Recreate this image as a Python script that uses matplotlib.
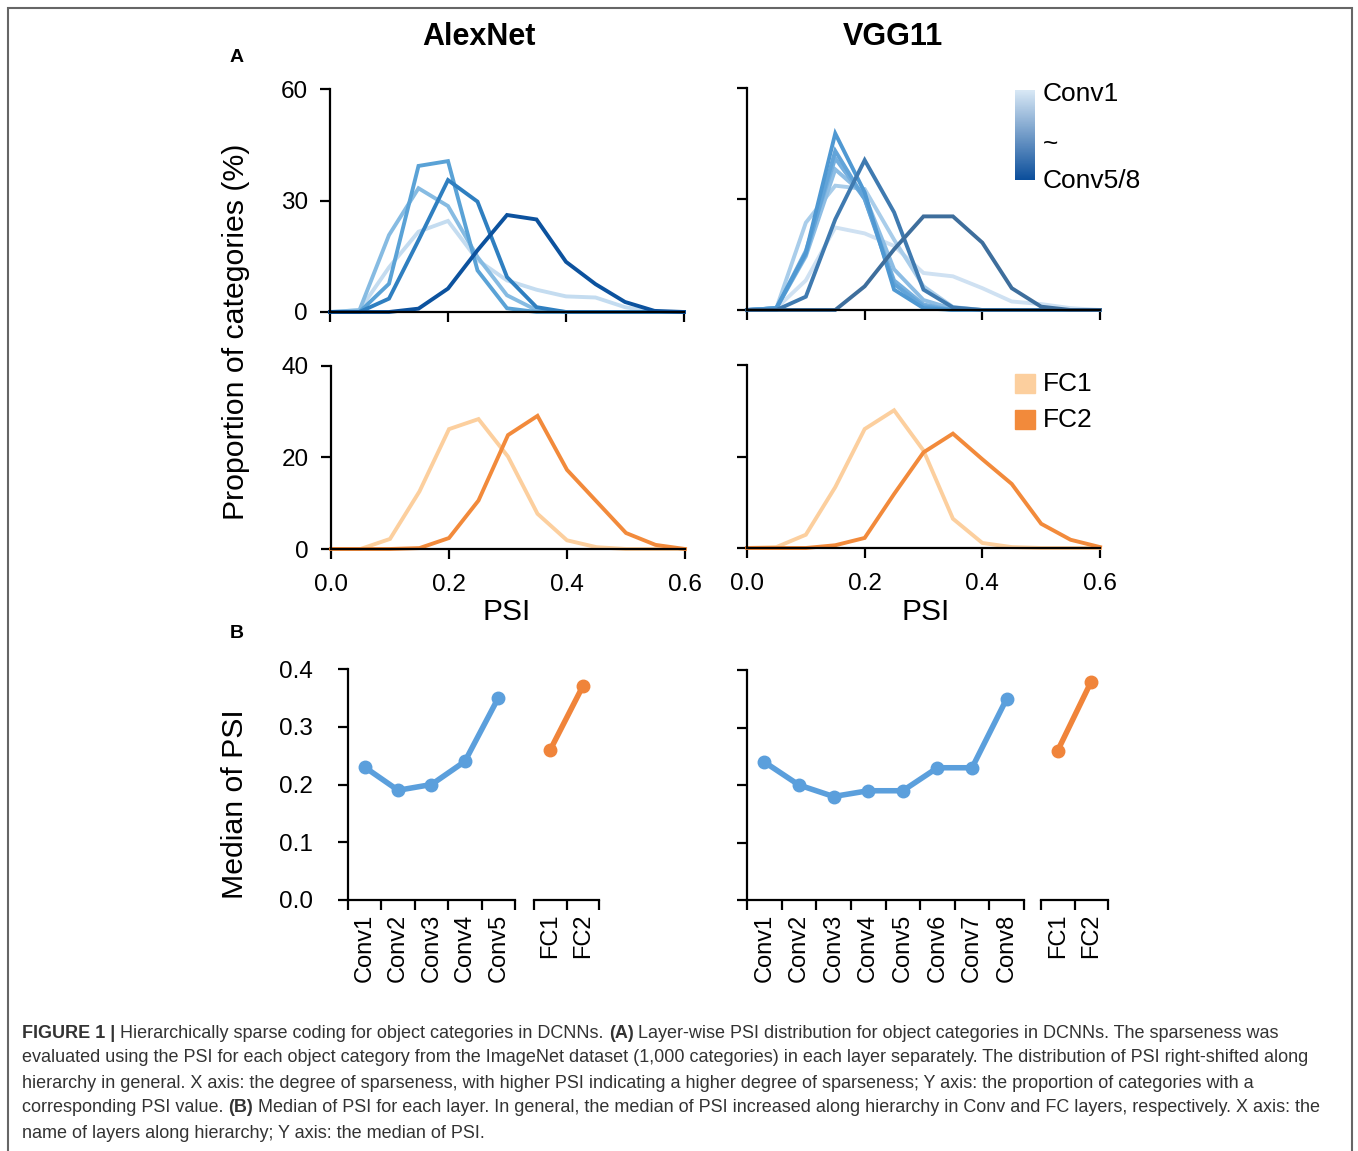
"""Sparse coding figure: PSI distributions per layer (A) and median PSI per layer (B)."""

import matplotlib.pyplot as plt
from matplotlib.colors import LinearSegmentedColormap
from matplotlib.patches import Rectangle
import numpy as np

plt.rcParams["font.family"] = ["Liberation Sans", "DejaVu Sans"]

W, H = 1358, 1151

# PSI bin centres
psi_bins = [0.0, 0.05, 0.1, 0.15, 0.2, 0.25, 0.3, 0.35, 0.4, 0.45, 0.5, 0.55, 0.6]

# AlexNet conv layers, % of categories per PSI bin
alex_conv1 = [0, 0.5, 12, 21.6, 24.5, 14, 8.5, 6, 4.2, 3.9, 1.3, 0, 0]
alex_conv2 = [0, 0.5, 20.7, 33.3, 28.5, 14.8, 4.5, 0.5, 0, 0, 0, 0, 0]
alex_conv3 = [0, 0, 7.6, 39.3, 40.6, 11.2, 1, 0, 0, 0, 0, 0, 0]
alex_conv4 = [0, 0, 3.6, 19.3, 35.5, 29.7, 9.4, 1.3, 0, 0, 0, 0, 0]
alex_conv5 = [0, 0, 0, 0.9, 6.3, 16.6, 26.1, 24.9, 13.5, 7.5, 2.7, 0.3, 0]

# VGG11 conv layers
vgg_conv1 = [0, 0.5, 8, 22.3, 20.7, 17.3, 10, 9.1, 5.9, 2.3, 1.6, 0.5, 0]
vgg_conv2 = [0, 0.5, 23.6, 33.6, 32.7, 19, 6.4, 0.8, 0, 0, 0, 0, 0]
vgg_conv3 = [0, 0.5, 14.5, 38, 31, 11, 2.7, 0.3, 0, 0, 0, 0, 0]
vgg_conv4 = [0, 0.5, 16, 41, 30, 8, 1.5, 0, 0, 0, 0, 0, 0]
vgg_conv5 = [0, 0.5, 15, 43, 30, 7, 1, 0, 0, 0, 0, 0, 0]
vgg_conv6 = [0, 0.5, 15.5, 47.7, 31.8, 5.5, 0.5, 0, 0, 0, 0, 0, 0]
vgg_conv7 = [0, 0, 3.6, 24.5, 40.5, 26.4, 5.5, 0.7, 0, 0, 0, 0, 0]
vgg_conv8 = [0, 0, 0, 0, 6.4, 16.4, 25.3, 25.3, 18.2, 5.9, 0.9, 0, 0]

# FC layers
alex_fc1 = [0, 0, 2.2, 12.6, 26.2, 28.4, 20.2, 7.7, 1.9, 0.4, 0, 0, 0]
alex_fc2 = [0, 0, 0, 0.2, 2.4, 10.6, 24.9, 29.1, 17.3, 10.4, 3.5, 0.9, 0]
vgg_fc1 = [0, 0.2, 2.9, 13.3, 26, 30.1, 21.3, 6.4, 1.1, 0.2, 0, 0, 0]
vgg_fc2 = [0, 0, 0, 0.6, 2.2, 11.8, 20.9, 25, 19.4, 14, 5.3, 1.8, 0.2]

# Median PSI per layer
alex_conv_names = ["Conv1", "Conv2", "Conv3", "Conv4", "Conv5"]
alex_conv_median = [0.23, 0.19, 0.20, 0.24, 0.35]
vgg_conv_names = ["Conv1", "Conv2", "Conv3", "Conv4", "Conv5", "Conv6", "Conv7", "Conv8"]
vgg_conv_median = [0.24, 0.20, 0.18, 0.19, 0.19, 0.23, 0.23, 0.35]
fc_names = ["FC1", "FC2"]
alex_fc_median = [0.26, 0.37]
vgg_fc_median = [0.26, 0.38]

ALEX_BLUES = ["#c4dcf0", "#86bbe2", "#5aa2d6", "#2f7fc0", "#0c529e"]
VGG_BLUES = ["#cfe1f2", "#a9cdea", "#8dbde4", "#75afde", "#62a4d9", "#4f98d2", "#3f7ab0", "#3e6e9c"]
FC_COLORS = ["#fccf9e", "#f28a3b"]
MED_BLUE = "#5b9fdc"
MED_ORANGE = "#f0843a"

CAPTION = [
    [("FIGURE 1 | ", "bold"), ("Hierarchically sparse coding for object categories in DCNNs. ", "normal"),
     ("(A)", "bold"), (" Layer-wise PSI distribution for object categories in DCNNs. The sparseness was", "normal")],
    [("evaluated using the PSI for each object category from the ImageNet dataset (1,000 categories) in each "
      "layer separately. The distribution of PSI right-shifted along", "normal")],
    [("hierarchy in general. X axis: the degree of sparseness, with higher PSI indicating a higher degree of "
      "sparseness; Y axis: the proportion of categories with a", "normal")],
    [("corresponding PSI value. ", "normal"), ("(B)", "bold"),
     (" Median of PSI for each layer. In general, the median of PSI increased along hierarchy in Conv and FC "
      "layers, respectively. X axis: the", "normal")],
    [("name of layers along hierarchy; Y axis: the median of PSI.", "normal")],
]


def rect(x0, y0, x1, y1):
    """Pixel box (top-left origin) -> figure fraction [left, bottom, width, height]."""
    return [x0 / W, 1 - y1 / H, (x1 - x0) / W, (y1 - y0) / H]


def fxy(x, y):
    return x / W, 1 - y / H


def style_axes(ax, left=True, ypad=9, xpad=11):
    for s in ["top", "right"]:
        ax.spines[s].set_visible(False)
    ax.spines["left"].set_visible(left)
    for s in ["left", "bottom"]:
        ax.spines[s].set_linewidth(1.6)
    ax.tick_params(direction="out", length=7, width=1.6, labelsize=17.5)
    ax.tick_params(axis="y", pad=ypad)
    ax.tick_params(axis="x", pad=xpad)
    if not left:
        ax.tick_params(axis="y", left=False, labelleft=False)


def dist_panel(ax, series, colors, ymax, yticks, ylabels, xlabels):
    for vals, c in zip(series, colors):
        ax.plot(psi_bins, vals, color=c, lw=2.8, clip_on=False, solid_joinstyle="miter")
    ax.set_xlim(0, 0.6)
    ax.set_ylim(0, ymax)
    ax.set_xticks([0, 0.2, 0.4, 0.6])
    ax.set_yticks(yticks)
    style_axes(ax)
    if ylabels:
        ax.set_yticklabels([str(t) for t in yticks])
    else:
        ax.set_yticklabels([])
    if xlabels:
        ax.set_xticklabels(["0.0", "0.2", "0.4", "0.6"])
    else:
        ax.set_xticklabels([])


def median_panel(ax, names, values, color, left):
    n = len(names)
    pos = np.arange(n)
    ax.plot(pos, values, color=color, lw=4, marker="o", ms=9, clip_on=False)
    ax.set_xlim(-0.5, n - 0.5)
    ax.set_ylim(0, 0.4)
    ax.set_xticks(np.arange(n + 1) - 0.5)
    ax.set_xticklabels([])
    ax.set_xticks(pos, minor=True)
    ax.set_xticklabels(names, minor=True, rotation=90)
    ax.set_yticks([0, 0.1, 0.2, 0.3, 0.4])
    ax.set_yticklabels(["0.0", "0.1", "0.2", "0.3", "0.4"])
    style_axes(ax, left=left, ypad=18)
    ax.tick_params(axis="x", which="minor", length=0, labelsize=17, pad=10)


def draw_caption(fig):
    renderer = fig.canvas.get_renderer()
    y = 1033
    for line in CAPTION:
        x = 22
        for text, weight in line:
            t = fig.text(*fxy(x, y), text, fontsize=12.95, fontweight=weight, color="#333333",
                         va="center", ha="left")
            x += t.get_window_extent(renderer).width
        y += 25


def main():
    fig = plt.figure(figsize=(W / 100, H / 100), dpi=100)

    # (A) distributions
    ax = fig.add_axes(rect(330, 89, 684, 312))
    dist_panel(ax, [alex_conv1, alex_conv2, alex_conv3, alex_conv4, alex_conv5], ALEX_BLUES,
               60, [0, 30, 60], True, False)
    ax = fig.add_axes(rect(747, 88, 1100, 310))
    dist_panel(ax, [vgg_conv1, vgg_conv2, vgg_conv3, vgg_conv4, vgg_conv5, vgg_conv6, vgg_conv7, vgg_conv8],
               VGG_BLUES, 60, [0, 30, 60], False, False)
    ax = fig.add_axes(rect(331, 366, 685, 549))
    dist_panel(ax, [alex_fc1, alex_fc2], FC_COLORS, 40, [0, 20, 40], True, True)
    ax = fig.add_axes(rect(747, 365, 1100, 548))
    dist_panel(ax, [vgg_fc1, vgg_fc2], FC_COLORS, 40, [0, 20, 40], False, True)

    # (B) medians
    ax = fig.add_axes(rect(348, 669, 515, 900))
    median_panel(ax, alex_conv_names, alex_conv_median, MED_BLUE, True)
    ax = fig.add_axes(rect(534, 669, 599, 900))
    median_panel(ax, fc_names, alex_fc_median, MED_ORANGE, False)
    ax = fig.add_axes(rect(747, 670, 1024, 900))
    median_panel(ax, vgg_conv_names, vgg_conv_median, MED_BLUE, True)
    ax.set_yticklabels([])
    ax = fig.add_axes(rect(1041, 670, 1108, 900))
    median_panel(ax, fc_names, vgg_fc_median, MED_ORANGE, False)

    # titles and labels
    fig.text(*fxy(479, 37), "AlexNet", fontsize=22, fontweight="bold", ha="center", va="center")
    fig.text(*fxy(893, 37), "VGG11", fontsize=22, fontweight="bold", ha="center", va="center")
    fig.text(*fxy(237, 57), "A", fontsize=14, fontweight="bold", ha="center", va="center")
    fig.text(*fxy(237, 633), "B", fontsize=14, fontweight="bold", ha="center", va="center")
    fig.text(*fxy(236, 332), "Proportion of categories (%)", fontsize=21.8, rotation=90,
             ha="center", va="center")
    fig.text(*fxy(235, 804), "Median of PSI", fontsize=21.8, rotation=90, ha="center", va="center")
    fig.text(*fxy(507, 612), "PSI", fontsize=21.5, ha="center", va="center")
    fig.text(*fxy(926, 612), "PSI", fontsize=21.5, ha="center", va="center")

    # gradient legend for conv layers
    cmap = LinearSegmentedColormap.from_list("conv", ["#d8e8f5", "#0c4f9c"])
    lax = fig.add_axes(rect(1015, 90, 1035, 180))
    lax.imshow(np.linspace(0, 1, 100).reshape(-1, 1), cmap=cmap, aspect="auto")
    lax.axis("off")
    fig.text(*fxy(1043, 94), "Conv1", fontsize=19, ha="left", va="center")
    fig.text(*fxy(1043, 144), "~", fontsize=19, ha="left", va="center")
    fig.text(*fxy(1043, 181), "Conv5/8", fontsize=19, ha="left", va="center")

    # FC legend
    for (y0, y1), c, name in zip([(374, 393), (410, 429)], FC_COLORS, fc_names):
        fig.patches.append(Rectangle(fxy(1015, y1), 20 / W, (y1 - y0) / H, color=c,
                                     transform=fig.transFigure, figure=fig))
        fig.text(*fxy(1043, (y0 + y1) / 2 + 1), name, fontsize=19, ha="left", va="center")

    # outer frame
    fig.patches.append(Rectangle(fxy(8, 1160), (1352 - 8) / W, (1160 - 8) / H, fill=False,
                                 edgecolor="#666666", lw=1.5, transform=fig.transFigure, figure=fig))

    draw_caption(fig)
    fig.savefig("out.png", dpi=100)


if __name__ == "__main__":
    main()
